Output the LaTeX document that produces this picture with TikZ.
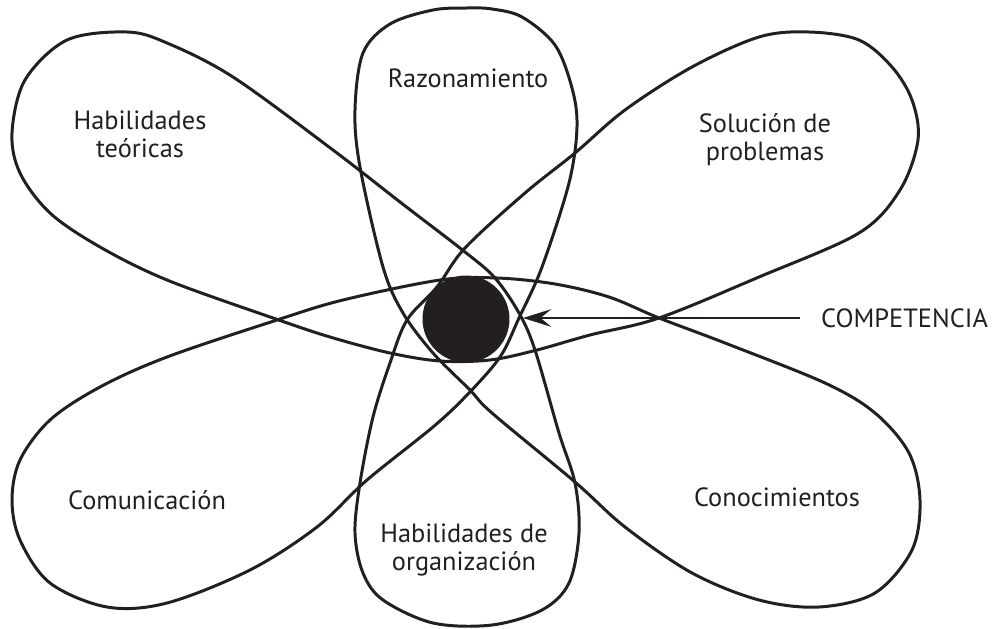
\documentclass[tikz,border=0pt]{standalone}
\usepackage{fontspec}
\setmainfont{PT Sans}
\usepackage{xcolor}
\usepackage{tikz}
\usetikzlibrary{arrows.meta,positioning}
\definecolor{ink}{HTML}{231F20}

\begin{document}
\begin{tikzpicture}[x=0.02cm, y=-0.02cm,
    petal/.style={draw=ink, line width=1.7pt, line join=round},
    lbl/.style={text=ink, font=\fontsize{15}{16}\selectfont, align=center}]
    \useasboundingbox (0,0) rectangle (992,629);

    % Petals: teoricas, solucion, organizacion
    \draw[petal] plot[smooth cycle, tension=0.55] coordinates {
        (559,433) (535,350) (519,313) (495,278) (465,252) (400,202) (333,150)
        (233,77) (167,43) (127,32) (67,40) (25,80) (12,133) (20,173) (50,213)
        (100,247) (167,280) (273,318) (330,337) (390,353) (440,361) (490,360)
        (537,350) (590,335) (659,318) (759,277) (859,233) (900,190) (918,140)
        (912,100) (892,67) (859,40) (809,32) (759,37) (692,67) (625,110)
        (575,153) (525,193) (465,248) (437,287) (407,320) (390,363) (373,417)
        (360,483) (355,533) (363,573) (383,600) (433,623) (492,625) (542,610)
        (569,583) (579,533) (575,483)};

    % Petals: comunicacion, conocimientos, razonamiento
    \draw[petal] plot[smooth cycle, tension=0.55] coordinates {
        (555,284) (497,278) (440,280) (343,300) (277,320) (167,357)
        (100,387) (50,420) (20,460) (12,500) (20,540) (50,583) (107,607)
        (167,603) (250,570) (317,527) (367,480) (433,427) (467,395) (500,357)
        (519,318) (542,267) (569,183) (577,127) (572,88) (555,45) (522,17)
        (492,9) (467,8) (433,10) (390,24) (363,53) (355,110) (360,167)
        (383,267) (403,313) (433,353) (470,390) (492,413) (575,482) (625,527)
        (692,573) (759,600) (819,607) (875,593) (912,550) (920,500) (909,453)
        (875,413) (825,383) (725,343) (659,318) (609,297)};

    % Centre
    \node[circle, fill=ink, minimum size=1.74cm, inner sep=0pt] (comp) at (466,319) {};

    % Labels
    \node[lbl] (teoricas) at (140,134) {Habilidades\\teóricas};
    \node[lbl] (razonamiento) at (468,78) {Razonamiento};
    \node[lbl] (solucion) at (765,140) {Solución de\\problemas};
    \node[lbl] (comunicacion) at (147,500) {Comunicación};
    \node[lbl] (organizacion) at (464,550) {Habilidades de\\organización};
    \node[lbl] (conocimientos) at (777,497) {Conocimientos};

    % Arrow
    \coordinate (tip) at (523,318);
    \node[lbl, anchor=west] (competencia) at (815,318) {COMPETENCIA};
    \draw[ink, line width=1.7pt, shorten <=0.3cm,
        -{Stealth[length=16pt, width=10pt, inset=6pt]}] (competencia.west) -- (tip);
\end{tikzpicture}
\end{document}
